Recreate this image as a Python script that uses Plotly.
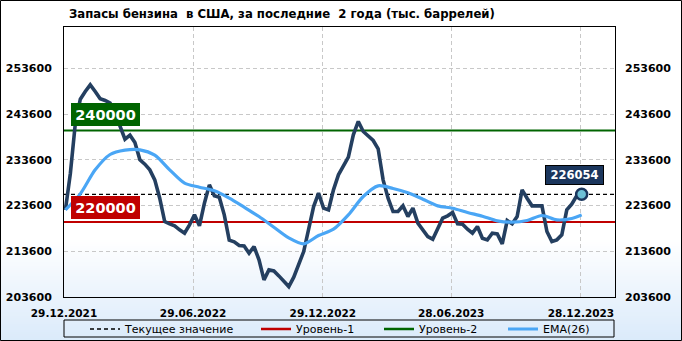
import plotly.graph_objects as go
import pandas as pd

# ---------------- data ----------------
dates = pd.date_range("2021-12-31", periods=105, freq="7D")
stocks = [
    222652, 230671, 241606, 246855, 248532, 249990, 248532, 246928, 246564, 245980,
    243793, 240877, 238107, 238982, 237378, 233587, 232640, 231400, 229213, 225204,
    220101, 219590, 219153, 218278, 217549, 219372, 221559, 219153, 224110, 228120,
    225714, 225423, 221559, 216018, 215654, 214852, 214779, 213175, 214633, 211717,
    207343, 209530, 209312, 208218, 207125, 205885, 207927, 210770, 213540, 218424,
    223381, 226297, 223017, 222652, 227026, 230307, 232129, 234171, 239055, 241971,
    239784, 238836, 237816, 235993, 229213, 225204, 222288, 222288, 223527, 221194,
    223017, 219736, 218278, 216820, 216237, 218643, 220830, 221340, 222069, 219590,
    219518, 218424, 217549, 219007, 216456, 216091, 217549, 217403, 215217, 220320,
    219590, 221194, 227026, 225204, 223527, 223527, 223527, 217914, 215727, 216091,
    217185, 222652, 223892, 225714, 226054,
]
ema_weeks = [0, 3, 6, 9, 12, 15, 18, 21, 24, 27, 30, 33, 36, 39, 42, 45, 48, 51, 54,
             57, 60, 63, 66, 69, 72, 75, 78, 81, 84, 87, 90, 93, 96, 99, 102, 104]
ema_values = [222652, 226152, 231400, 234754, 235701, 235774, 234608, 231400, 228484,
              227610, 226808, 225204, 223236, 221194, 218862, 216529, 215217, 217039,
              218424, 221559, 225568, 227901, 227318, 226370, 224985, 223527, 223017,
              222069, 221267, 220247, 219955, 220320, 221413, 220466, 220757, 221559]
level_1 = 220000
level_2 = 240000
current_value = stocks[-1]

y_ticks = [203600, 213600, 223600, 233600, 243600, 253600]
x_tick_dates = ["2021-12-29", "2022-06-29", "2022-12-29", "2023-06-28", "2023-12-28"]
x_tick_labels = ["29.12.2021", "29.06.2022", "29.12.2022", "28.06.2023", "28.12.2023"]
y_range = [203600, 262630]
x_range = ["2021-12-29", "2024-02-14"]

title_text = "Запасы бензина\u00a0 в США, за последние\u00a0 2 года (тыс. баррелей)"

# ---------------- geometry helpers (pixels -> paper / container) ----------------
W, H = 682, 341
L, R, T, B = 64, 67, 27, 44
PW, PH = W - L - R, H - T - B


def px(X):
    return (X - L) / PW


def py(Y):
    return (H - B - Y) / PH


def cx(X):
    return X / W


def cy(Y):
    return 1 - Y / H


NAVY = "#243F60"
EMA_BLUE = "#4AA6F5"
RED = "#C00000"
GREEN = "#006400"
FONT = "DejaVu Sans"

fig = go.Figure()

# main series
fig.add_trace(go.Scatter(x=dates, y=stocks, mode="lines",
                         line=dict(color=NAVY, width=3.6), showlegend=False,
                         hoverinfo="skip"))
# EMA
ema_dates = [dates[i] for i in ema_weeks]
fig.add_trace(go.Scatter(x=ema_dates, y=ema_values, mode="lines", name="EMA(26)",
                         line=dict(color=EMA_BLUE, width=3.2, shape="spline", smoothing=0.8),
                         legend="legend4"))
# legend-only entries
fig.add_trace(go.Scatter(x=[None], y=[None], mode="lines", name="Текущее значение",
                         line=dict(color="black", width=1.5, dash="4px,3px"), legend="legend"))
fig.add_trace(go.Scatter(x=[None], y=[None], mode="lines", name="Уровень-1",
                         line=dict(color=RED, width=2.5), legend="legend2"))
fig.add_trace(go.Scatter(x=[None], y=[None], mode="lines", name="Уровень-2",
                         line=dict(color=GREEN, width=2.5), legend="legend3"))
# last point marker (on right axis)
fig.add_trace(go.Scatter(x=[dates[-1]], y=[current_value], mode="markers",
                         marker=dict(size=11, color="#6EC1D6", line=dict(color="#1B365D", width=2.5)),
                         showlegend=False, yaxis="y2"))

# ---------------- background gradient ----------------
shapes = []
top_c = (255, 255, 255)
bot_c = (218, 234, 250)
g0, g1 = 238, 341
step = 2
for Yp in range(g0, g1, step):
    t = (Yp - g0) / (g1 - g0)
    c = tuple(round(top_c[i] + (bot_c[i] - top_c[i]) * t) for i in range(3))
    shapes.append(dict(type="rect", xref="paper", yref="paper", layer="below",
                       x0=px(0), x1=px(W), y0=py(Yp + step), y1=py(Yp),
                       line=dict(width=0), fillcolor="rgb(%d,%d,%d)" % c))
# outer border
shapes.append(dict(type="rect", xref="paper", yref="paper", layer="above",
                   x0=px(0.5), x1=px(W - 0.5), y0=py(H - 0.5), y1=py(0.5),
                   line=dict(color="black", width=1), fillcolor="rgba(0,0,0,0)"))
# legend box
shapes.append(dict(type="rect", xref="paper", yref="paper", layer="above",
                   x0=px(64), x1=px(614), y0=py(337), y1=py(320),
                   line=dict(color="black", width=1), fillcolor="rgba(0,0,0,0)"))
# level lines and current value line
shapes.append(dict(type="line", xref="paper", yref="y", layer="between",
                   x0=0, x1=1, y0=level_1, y1=level_1, line=dict(color=RED, width=2.2)))
shapes.append(dict(type="line", xref="paper", yref="y", layer="between",
                   x0=0, x1=1, y0=level_2, y1=level_2, line=dict(color=GREEN, width=2.2)))
shapes.append(dict(type="line", xref="paper", yref="y", layer="between",
                   x0=0, x1=1, y0=current_value, y1=current_value,
                   line=dict(color="black", width=1.2, dash="4px,3px")))

annotations = [
    dict(text="<b>%s</b>" % title_text, xref="paper", yref="paper", x=px(67), y=py(13),
         xanchor="left", yanchor="middle", showarrow=False,
         font=dict(family="Liberation Sans Narrow, DejaVu Sans Condensed, DejaVu Sans", size=13, color="black")),
    dict(text="<b>%d</b>" % level_2, xref="paper", yref="y", x=px(71), y=level_2,
         xanchor="left", yanchor="bottom", yshift=5, showarrow=False,
         bgcolor=GREEN, bordercolor=GREEN, borderwidth=1, borderpad=2, width=63, height=17,
         font=dict(family=FONT, size=14.5, color="white")),
    dict(text="<b>%d</b>" % level_1, xref="paper", yref="y", x=px(71), y=level_1,
         xanchor="left", yanchor="bottom", yshift=3, showarrow=False,
         bgcolor=RED, bordercolor=RED, borderwidth=1, borderpad=2, width=63, height=17,
         font=dict(family=FONT, size=14.5, color="white")),
    dict(text="<b>%d</b>" % current_value, xref="x", yref="y", x=dates[-1], y=current_value,
         xanchor="center", yanchor="bottom", xshift=-7, yshift=9, showarrow=False,
         bgcolor="#1B365D", bordercolor="black", borderwidth=1, borderpad=2, width=53, height=14,
         font=dict(family=FONT, size=11.5, color="white")),
]

legend_common = dict(orientation="h", xref="container", yref="container", y=cy(329),
                     yanchor="middle", xanchor="left",
                     bgcolor="rgba(0,0,0,0)", borderwidth=0,
                     font=dict(family=FONT, size=11, color="black"), itemwidth=30)

fig.update_layout(
    width=W, height=H,
    margin=dict(l=L, r=R, t=T, b=B, pad=0, autoexpand=False),
    paper_bgcolor="white",
    plot_bgcolor="rgba(0,0,0,0)",
    shapes=shapes,
    annotations=annotations,
    showlegend=True,
    legend=dict(x=cx(85), **legend_common),
    legend2=dict(x=cx(256), **legend_common),
    legend3=dict(x=cx(379), **legend_common),
    legend4=dict(x=cx(503), **legend_common),
    xaxis=dict(type="date", range=x_range, tickvals=x_tick_dates, ticktext=x_tick_labels,
               showgrid=True, gridcolor="#C8C8C8", griddash="4px,3px", gridwidth=1,
               showline=True, linecolor="black", linewidth=1, mirror=True, automargin=False,
               ticks="", ticklabelstandoff=6, zeroline=False,
               tickfont=dict(family=FONT, size=10.5, color="black", weight="bold")),
    yaxis=dict(range=y_range, tickvals=y_ticks, ticktext=[str(v) for v in y_ticks],
               showgrid=True, gridcolor="#C8C8C8", griddash="4px,3px", gridwidth=1,
               showline=True, linecolor="black", linewidth=1, mirror=True, automargin=False,
               ticks="", ticklabelstandoff=9, zeroline=False,
               tickfont=dict(family=FONT, size=11, color="black", weight="bold")),
    yaxis2=dict(overlaying="y", side="right", matches="y", range=y_range, tickvals=y_ticks,
                ticktext=[str(v) for v in y_ticks], showgrid=False, zeroline=False,
                ticks="", ticklabelstandoff=9, showline=False, automargin=False,
                tickfont=dict(family=FONT, size=11, color="black", weight="bold")),
)

fig.write_html("out.html")
